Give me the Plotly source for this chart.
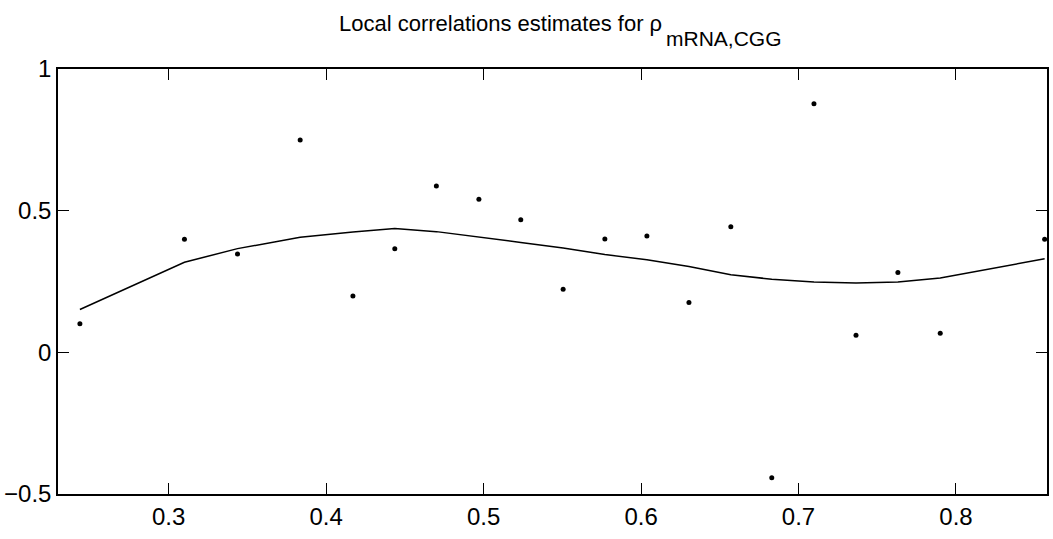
import plotly.graph_objects as go

# Data
x_pts = [0.2436, 0.310, 0.3437, 0.3835, 0.417, 0.4436, 0.470, 0.497, 0.5236, 0.5505,
         0.577, 0.6037, 0.6304, 0.657, 0.683, 0.7098, 0.7365, 0.7631, 0.790, 0.8563]
y_pts = [0.101, 0.399, 0.347, 0.749, 0.199, 0.366, 0.587, 0.540, 0.4675, 0.2226,
         0.400, 0.411, 0.1756, 0.4428, -0.443, 0.877, 0.060, 0.2816, 0.067, 0.399]
y_fit = [0.151, 0.318, 0.366, 0.406, 0.425, 0.437, 0.426, 0.408, 0.388, 0.368,
         0.345, 0.327, 0.303, 0.274, 0.258, 0.2484, 0.245, 0.2484, 0.2625, 0.33]
x_ticks = [0.3, 0.4, 0.5, 0.6, 0.7, 0.8]
y_ticks = [-0.5, 0, 0.5, 1]

W, H = 1053, 539
L, R, T, B = 58, 6, 69, 45
FONT = "Liberation Sans, Arial, sans-serif"

fig = go.Figure()
fig.add_trace(go.Scatter(x=x_pts, y=y_fit, mode="lines",
                         line=dict(color="black", width=1.5), hoverinfo="skip"))
fig.add_trace(go.Scatter(x=x_pts, y=y_pts, mode="markers",
                         marker=dict(color="black", size=5), cliponaxis=False))

axis_common = dict(showgrid=False, zeroline=False, showline=True, linecolor="black",
                   linewidth=1.5, mirror="ticks", ticks="inside", ticklen=11,
                   tickwidth=1, tickcolor="black", automargin=False,
                   tickfont=dict(family=FONT, size=24, color="black"))
fig.update_xaxes(range=[0.2297, 0.8578], tickvals=x_ticks,
                 ticktext=[f"{v:g}" for v in x_ticks], **axis_common)
fig.update_yaxes(range=[-0.5, 1], tickvals=y_ticks,
                 ticktext=["\u22120.5", "0", "0.5", "1"], **axis_common)

pw = W - L - R
ph = H - T - B
def px_x(p):
    return (p - L) / pw
def px_y(p):
    return (H - B - p) / ph

fig.add_annotation(text="Local correlations estimates for \u03c1", xref="paper", yref="paper",
                   x=px_x(664), y=px_y(33), xanchor="right", yanchor="bottom",
                   showarrow=False, yshift=-5,
                   font=dict(family=FONT, size=22, color="black"))
fig.add_annotation(text="mRNA,CGG", xref="paper", yref="paper",
                   x=px_x(664), y=px_y(47), xanchor="left", yanchor="bottom",
                   showarrow=False, yshift=-5,
                   font=dict(family=FONT, size=21, color="black"))

fig.update_layout(width=W, height=H, margin=dict(l=L, r=R, t=T, b=B),
                  paper_bgcolor="white", plot_bgcolor="white", showlegend=False)

fig.write_html("out.html")
